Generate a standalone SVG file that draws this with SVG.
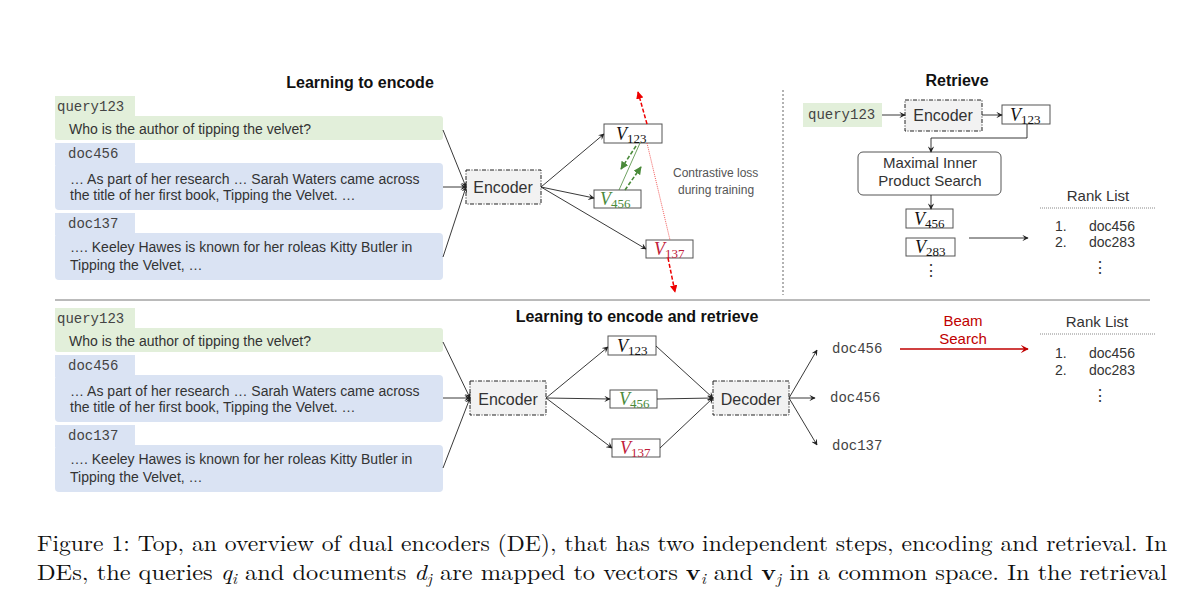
<svg xmlns="http://www.w3.org/2000/svg" width="1200" height="594" viewBox="0 0 1200 594">
<defs>
<marker id="ar" viewBox="0 0 10 10" refX="9" refY="5" markerWidth="7" markerHeight="7" orient="auto-start-reverse"><path d="M0,0 L10,5 L0,10 L4,5 z" fill="#222"/></marker>
<marker id="rr" viewBox="0 0 10 10" refX="9" refY="5" markerWidth="5" markerHeight="5" orient="auto-start-reverse"><path d="M0,0 L10,5 L0,10 z" fill="#e00"/></marker>
<marker id="gr" viewBox="0 0 10 10" refX="9" refY="5" markerWidth="5" markerHeight="5" orient="auto"><path d="M0,0 L10,5 L0,10 z" fill="#4a8a3a"/></marker>
<marker id="br" viewBox="0 0 10 10" refX="9" refY="5" markerWidth="6" markerHeight="6" orient="auto"><path d="M0,0 L10,5 L0,10 L4,5 z" fill="#c00000"/></marker>
</defs>
<style>
.s{font-family:"Liberation Sans",Roboto,sans-serif;fill:#333}
.m{font-family:"Liberation Mono","DejaVu Sans Mono",monospace;fill:#444;font-size:14px}
.t{font-family:"Liberation Sans",Arial,sans-serif;font-weight:bold;font-size:16px;fill:#111}
.v{font-family:"Liberation Serif",serif;font-style:italic;font-size:18px;fill:#111}
.sub{font-style:normal;font-size:13px}
.box{fill:#fff;stroke:#555;stroke-width:1}
.enc{fill:#f2f2f2;stroke:#222;stroke-width:1;stroke-dasharray:4 1.5 1 1.5}
.gq{fill:#e2efda}
.bd{fill:#dae3f3}
.ln{stroke:#222;stroke-width:0.9;fill:none;marker-end:url(#ar)}
.cap{font-family:"Latin Modern Roman","Liberation Serif",serif;font-size:22px;fill:#111}
</style>
<rect width="1200" height="594" fill="#fff"/>

<g id="top-left">
<text class="t" x="360" y="88" text-anchor="middle">Learning to encode</text>
<rect class="gq" x="55" y="96" width="80" height="22"/>
<rect class="gq" x="55" y="116" width="388" height="24" rx="3"/>
<text class="m" x="57" y="111">query123</text>
<text class="s" x="69" y="134" font-size="14">Who is the author of tipping the velvet?</text>
<rect class="bd" x="55" y="143" width="80" height="22"/>
<rect class="bd" x="55" y="163" width="388" height="47" rx="4"/>
<text class="m" x="68" y="158">doc456</text>
<text class="s" x="70" y="184" font-size="14">… As part of her research … Sarah Waters came across</text>
<text class="s" x="70" y="200" font-size="14">the title of her first book, Tipping the Velvet. …</text>
<rect class="bd" x="55" y="213" width="80" height="22"/>
<rect class="bd" x="55" y="233" width="388" height="47" rx="4"/>
<text class="m" x="68" y="228">doc137</text>
<text class="s" x="70" y="252" font-size="14">….  Keeley Hawes is known for her roleas Kitty Butler in</text>
<text class="s" x="70" y="270" font-size="14">Tipping the Velvet, …</text>
</g>

<g id="enc1"><rect class="enc" x="466" y="170" width="75" height="34"/><text class="s" x="503" y="193" font-size="16" text-anchor="middle">Encoder</text></g>
<g id="v123a"><rect class="box" x="604" y="124" width="58" height="19"/><text class="v" x="616" y="140">V<tspan class="sub" dy="3">123</tspan></text></g>
<g id="v456a"><rect class="box" x="594" y="190" width="47" height="18"/><text class="v" x="600" y="205" style="fill:#4a8a3a">V<tspan class="sub" dy="3">456</tspan></text></g>
<g id="v137a"><rect class="box" x="646" y="240" width="47" height="18"/><text class="v" x="654" y="255" style="fill:#c0203a">V<tspan class="sub" dy="3">137</tspan></text></g>
<text class="s" x="673" y="177" font-size="12" style="fill:#555">Contrastive loss</text>
<text class="s" x="678" y="194" font-size="12" style="fill:#555">during training</text>

<g id="retrieve">
<text class="t" x="957" y="86" text-anchor="middle">Retrieve</text>
<rect class="gq" x="803" y="103" width="79" height="24"/>
<text class="m" x="808" y="119">query123</text>
<rect class="enc" x="905" y="100" width="77" height="31"/><text class="s" x="943" y="121" font-size="16" text-anchor="middle">Encoder</text>
<rect class="box" x="1002" y="105" width="48" height="19"/><text class="v" x="1010" y="121">V<tspan class="sub" dy="3">123</tspan></text>
<rect x="858" y="152" width="143" height="43" rx="5" fill="#fff" stroke="#555"/>
<text class="s" x="930" y="168" font-size="15" text-anchor="middle">Maximal Inner</text>
<text class="s" x="930" y="186" font-size="15" text-anchor="middle">Product Search</text>
<rect class="box" x="906" y="209" width="47" height="19"/><text class="v" x="914" y="225">V<tspan class="sub" dy="3">456</tspan></text>
<rect class="box" x="906" y="238" width="49" height="18"/><text class="v" x="915" y="253">V<tspan class="sub" dy="3">283</tspan></text>
<text class="s" x="931" y="276" font-size="16" text-anchor="middle">⋮</text>
<text class="s" x="1098" y="201" font-size="15" text-anchor="middle">Rank List</text>
<line x1="1040" y1="208" x2="1155" y2="208" stroke="#888" stroke-dasharray="1 1"/>
<text class="s" x="1055" y="231" font-size="14">1.</text><text class="s" x="1089" y="231" font-size="14">doc456</text>
<text class="s" x="1055" y="247" font-size="14">2.</text><text class="s" x="1089" y="247" font-size="14">doc283</text>
<text class="s" x="1100" y="273" font-size="16" text-anchor="middle">⋮</text>
</g>

<line x1="783" y1="90" x2="783" y2="295" stroke="#666" stroke-dasharray="2 2"/>
<line x1="55" y1="300" x2="1150" y2="300" stroke="#777" stroke-width="1"/>

<g id="bottom-left">
<text class="t" x="637" y="322" text-anchor="middle">Learning to encode and retrieve</text>
<rect class="gq" x="55" y="308" width="80" height="22"/>
<rect class="gq" x="55" y="328" width="388" height="24" rx="3"/>
<text class="m" x="57" y="323">query123</text>
<text class="s" x="69" y="346" font-size="14">Who is the author of tipping the velvet?</text>
<rect class="bd" x="55" y="355" width="80" height="22"/>
<rect class="bd" x="55" y="375" width="388" height="47" rx="4"/>
<text class="m" x="68" y="370">doc456</text>
<text class="s" x="70" y="396" font-size="14">… As part of her research … Sarah Waters came across</text>
<text class="s" x="70" y="412" font-size="14">the title of her first book, Tipping the Velvet. …</text>
<rect class="bd" x="55" y="425" width="80" height="22"/>
<rect class="bd" x="55" y="445" width="388" height="47" rx="4"/>
<text class="m" x="68" y="440">doc137</text>
<text class="s" x="70" y="464" font-size="14">….  Keeley Hawes is known for her roleas Kitty Butler in</text>
<text class="s" x="70" y="482" font-size="14">Tipping the Velvet, …</text>
</g>

<g id="enc2"><rect class="enc" x="470" y="381" width="76" height="34"/><text class="s" x="508" y="405" font-size="16" text-anchor="middle">Encoder</text></g>
<g id="v123b"><rect class="box" x="608" y="336" width="48" height="19"/><text class="v" x="617" y="352">V<tspan class="sub" dy="3">123</tspan></text></g>
<g id="v456b"><rect class="box" x="610" y="390" width="47" height="18"/><text class="v" x="619" y="405" style="fill:#4a8a3a">V<tspan class="sub" dy="3">456</tspan></text></g>
<g id="v137b"><rect class="box" x="612" y="439" width="48" height="18"/><text class="v" x="620" y="454" style="fill:#c0203a">V<tspan class="sub" dy="3">137</tspan></text></g>
<g id="dec"><rect class="enc" x="713" y="381" width="76" height="34"/><text class="s" x="751" y="405" font-size="16" text-anchor="middle">Decoder</text></g>
<g id="outs">
<text class="m" x="832" y="353">doc456</text>
<text class="m" x="830" y="402">doc456</text>
<text class="m" x="832" y="450">doc137</text>
<text class="s" x="963" y="326" font-size="15" text-anchor="middle" style="fill:#c00000">Beam</text>
<text class="s" x="963" y="344" font-size="15" text-anchor="middle" style="fill:#c00000">Search</text>
<text class="s" x="1097" y="327" font-size="15" text-anchor="middle">Rank List</text>
<line x1="1040" y1="334" x2="1155" y2="334" stroke="#888" stroke-dasharray="1 1"/>
<text class="s" x="1055" y="358" font-size="14">1.</text><text class="s" x="1089" y="358" font-size="14">doc456</text>
<text class="s" x="1055" y="375" font-size="14">2.</text><text class="s" x="1089" y="375" font-size="14">doc283</text>
<text class="s" x="1100" y="401" font-size="16" text-anchor="middle">⋮</text>
</g>

<g id="connectors">
<path class="ln" d="M443,130 L466,187"/>
<path class="ln" d="M443,187 L466,187"/>
<path class="ln" d="M443,257 L466,187"/>
<path class="ln" d="M541,187 L604,134"/>
<path class="ln" d="M541,187 L594,198"/>
<path class="ln" d="M541,187 L646,249"/>
<line x1="647" y1="143" x2="670" y2="240" stroke="#e33" stroke-width="0.8" stroke-dasharray="1 1"/>
<path d="M647,124 L638,92" stroke="#e00" stroke-width="1.5" stroke-dasharray="4 2" fill="none" marker-end="url(#rr)"/>
<path d="M668,258 L675,292" stroke="#e00" stroke-width="1.5" stroke-dasharray="4 2" fill="none" marker-end="url(#rr)"/>
<line x1="619" y1="190" x2="640" y2="143" stroke="#4a8a3a" stroke-width="0.8"/>
<path d="M636,146 L621,169" stroke="#4a8a3a" stroke-width="1.6" stroke-dasharray="4 2" fill="none" marker-end="url(#gr)"/>
<path d="M625,190 L641,167" stroke="#4a8a3a" stroke-width="1.6" stroke-dasharray="4 2" fill="none" marker-end="url(#gr)"/>
<path class="ln" d="M882,115 L905,115"/>
<path class="ln" d="M982,115 L1002,115"/>
<path class="ln" d="M1027,124 L1027,138 L931,138 L931,152"/>
<path class="ln" d="M931,195 L931,209"/>
<path class="ln" d="M969,238 L1028,238" stroke-width="1.3"/>
<path class="ln" d="M443,342 L470,398"/>
<path class="ln" d="M443,398 L470,398"/>
<path class="ln" d="M443,468 L470,398"/>
<path class="ln" d="M546,398 L608,347"/>
<path class="ln" d="M546,398 L610,399"/>
<path class="ln" d="M546,398 L612,448"/>
<path class="ln" d="M656,346 L713,398"/>
<path class="ln" d="M657,399 L713,398"/>
<path class="ln" d="M660,448 L713,398"/>
<path class="ln" d="M789,398 L817,350"/>
<path class="ln" d="M789,398 L815,398"/>
<path class="ln" d="M789,398 L817,445"/>
<path d="M900,349 L1028,349" stroke="#c00000" stroke-width="1.3" fill="none" marker-end="url(#br)"/>
</g>

<g id="caption">
<text class="cap" x="37" y="551" textLength="1130" lengthAdjust="spacingAndGlyphs">Figure 1: Top, an overview of dual encoders (DE), that has two independent steps, encoding and retrieval. In</text>
<text class="cap" x="37" y="580" textLength="1130" lengthAdjust="spacingAndGlyphs">DEs, the queries <tspan font-style="italic">q<tspan font-size="15" dy="4">i</tspan></tspan><tspan dy="-4"> and documents </tspan><tspan font-style="italic">d<tspan font-size="15" dy="4">j</tspan></tspan><tspan dy="-4"> are mapped to vectors </tspan><tspan font-weight="bold">v</tspan><tspan font-style="italic" font-size="15" dy="4">i</tspan><tspan dy="-4"> and </tspan><tspan font-weight="bold">v</tspan><tspan font-style="italic" font-size="15" dy="4">j</tspan><tspan dy="-4"> in a common space. In the retrieval</tspan></text>
</g>
</svg>
